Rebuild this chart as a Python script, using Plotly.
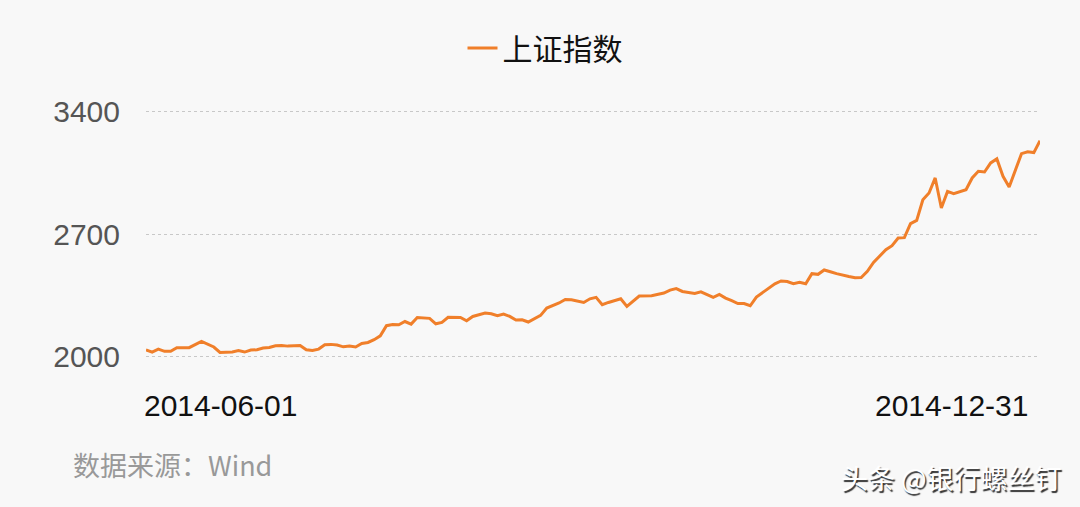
import plotly.graph_objects as go

# ---- data ----
series_name = "上证指数"
tick_labels = ["2014-06-01", "2014-12-31"]
y_ticks = [2000, 2700, 3400]
# Shanghai Composite closes, one slot per trading day (None = not read, line is connected)
values = [
    2037, 2024, 2041, 2028, 2028, 2049, None, 2049, None, 2085,
    None, 2053, 2022, None, 2024, 2032, 2024, 2036, 2037, 2047,
    2050, 2060, 2062, 2058, None, 2062, 2037, 2033, 2041, 2066,
    2068, 2064, 2054, 2058, 2053, 2073, 2079, 2095, 2117, 2175,
    2182, 2180, 2199, 2184, 2222, None, 2217, 2186, 2194, 2223,
    None, 2222, 2203, 2228, None, 2247, 2243, 2232, 2242, 2228,
    2207, 2209, 2196, None, 2234, 2276, None, 2305, 2325, 2324,
    None, 2308, 2329, 2337, 2295, 2308, 2318, 2329, 2285, 2314,
    2345, None, 2347, 2354, 2362, 2379, 2387, 2371, None, 2360,
    2369, 2352, 2337, 2354, 2333, 2318, 2302, 2302, 2289, 2339,
    2365, 2387, 2415, 2431, 2428, 2415, 2423, 2415, 2473, 2469,
    2494, 2484, 2473, None, 2457, 2450, 2451, 2486, 2537, 2576,
    2610, 2633, 2677, 2679, 2759, 2778, 2896, 2935, 3021, 2849,
    2944, 2931, 2941, 2954, 3021, 3059, 3055, 3107, 3130, 3030,
    2969, 3068, 3160, 3171, 3166, 3234,
]
source_text = "数据来源：Wind"
watermark_text = "头条 @银行螺丝钉"

x_idx = list(range(len(values)))
LINE = "#f07f2a"
BG = "#f8f8f8"
FONT = "Liberation Sans, Arial, Noto Sans CJK SC, sans-serif"
CJK = "Noto Sans CJK SC, Liberation Sans, sans-serif"

PLOT_L, PLOT_R, PLOT_T, PLOT_B = 146, 1040, 110, 358


def px_to_paper(px, py):
    return ((px - PLOT_L) / (PLOT_R - PLOT_L), (PLOT_B - py) / (PLOT_B - PLOT_T))


fig = go.Figure()
fig.add_trace(go.Scatter(
    x=x_idx, y=values, mode="lines", name=series_name,
    connectgaps=True,
    line=dict(color=LINE, width=3),
))

fig.update_layout(
    width=1080, height=507,
    paper_bgcolor=BG, plot_bgcolor=BG,
    margin=dict(l=PLOT_L, r=1080 - PLOT_R, t=PLOT_T, b=507 - PLOT_B),
    font=dict(family=FONT, size=30, color="#555"),
    showlegend=True,
    legend=dict(
        orientation="h", xref="container", yref="container",
        x=545 / 1080, xanchor="center", y=1 - 48 / 507, yanchor="middle",
        font=dict(family=CJK, size=30, color="#111"),
        itemwidth=30,
        bgcolor="rgba(0,0,0,0)",
    ),
    xaxis=dict(
        range=[0, len(values) - 1],
        showgrid=False, zeroline=False, showline=False,
        showticklabels=False, ticks="",
    ),
    yaxis=dict(
        range=[1990, 3410],
        tickvals=y_ticks,
        ticktext=[str(v) for v in y_ticks],
        showgrid=True, gridcolor="#c8c8c8", griddash="dot", gridwidth=1,
        zeroline=False, showline=False, ticks="",
        ticklabelstandoff=25,
        tickfont=dict(family=FONT, size=30, color="#555"),
    ),
)

# x-axis end labels (first/last category)
fig.add_annotation(
    x=x_idx[0], y=0, xref="x", yref="paper", yanchor="top",
    xanchor="left", xshift=-4, yshift=-29, showarrow=False,
    text=tick_labels[0], font=dict(family=FONT, size=30, color="#111"),
)
fig.add_annotation(
    x=x_idx[-1], y=0, xref="x", yref="paper", yanchor="top",
    xanchor="right", xshift=-10, yshift=-29, showarrow=False,
    text=tick_labels[1], font=dict(family=FONT, size=30, color="#111"),
)
# source
sx, sy = px_to_paper(71, 464)
fig.add_annotation(
    x=sx, y=sy, xref="paper", yref="paper", showarrow=False,
    text=source_text, xanchor="left", yanchor="middle",
    font=dict(family=CJK, size=27, color="#999"),
)
# watermark
wx, wy = px_to_paper(1064, 477)
fig.add_annotation(
    xref="paper", yref="paper", x=wx, y=wy,
    xanchor="right", yanchor="middle", showarrow=False,
    text=watermark_text,
    font=dict(family=CJK, size=27, color="#ffffff",
              shadow="1.5px 1.5px 1px #333"),
)

fig.write_html(
    "out.html",
    config={"displayModeBar": False},
    post_script="document.body.style.margin='0';document.body.style.background='%s';" % BG,
)
